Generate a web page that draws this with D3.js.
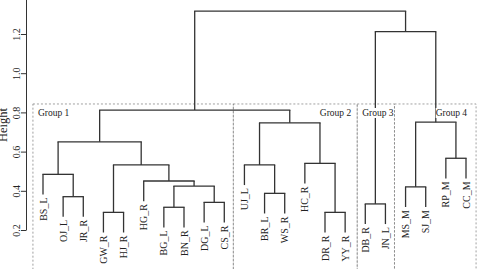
<!DOCTYPE html>
<html>
<head>
  <meta charset="utf-8">
  <style>
    html, body { margin: 0; overflow: hidden; background: #fff; }
    svg { display: block; }
    text { font-family: "Liberation Serif", "DejaVu Serif", serif; fill: #222; }
    .link { fill: none; stroke: #333; stroke-width: 1.3px; }
    .box { fill: none; stroke: #888; stroke-width: 0.8px; stroke-dasharray: 2,2; }
  </style>
  <script src="https://d3js.org/d3.v7.min.js"></script>
</head>
<body>
  <svg id="svg" width="479" height="269"></svg>
  <script>
    // leaves in dendrogram order
    var leaves = ["BS_L", "OJ_L", "JR_R", "GW_R", "HJ_R", "HG_R", "BG_L", "BN_R", "DG_L", "CS_R",
                  "UJ_L", "BR_L", "WS_R", "HC_R", "DR_R", "YY_R",
                  "DB_R", "JN_L",
                  "MS_M", "SJ_M", "RP_M", "CC_M"];

    // merges: a string is a leaf, a number is an earlier merge
    var merges = [
      ["OJ_L", "JR_R"], ["BS_L", 0], ["GW_R", "HJ_R"], ["BG_L", "BN_R"], ["DG_L", "CS_R"],
      [3, 4], ["HG_R", 5], [2, 6], [1, 7],
      ["BR_L", "WS_R"], ["UJ_L", 9], ["DR_R", "YY_R"], ["HC_R", 11], [10, 12],
      [8, 13],
      ["DB_R", "JN_L"], ["MS_M", "SJ_M"], ["RP_M", "CC_M"], [16, 17], [15, 18],
      [14, 19]
    ];
    var heights = [0.37, 0.484, 0.29, 0.316, 0.341,
                   0.424, 0.45, 0.532, 0.65,
                   0.387, 0.532, 0.29, 0.54, 0.747,
                   0.812,
                   0.333, 0.42, 0.566, 0.75, 1.212,
                   1.317];

    var groupNames = ["Group 1", "Group 2", "Group 3", "Group 4"];
    var groupEdges = [-0.5, 9.45, 15.6, 17.45, 21.5];   // in leaf units
    var groupTop = 0.843;
    var yTicks = [0.2, 0.4, 0.6, 0.8, 1.0, 1.2];

    var svg = d3.select("#svg");

    var x = d3.scaleLinear().domain([0, leaves.length - 1]).range([43, 466]);
    var y = d3.scaleLinear().domain([0.2, 1.4]).range([230, -5.2]);

    var hang = 0.1 * (d3.max(heights) - d3.min(heights));

    var boxes = svg.append("g");
    var links = svg.append("g");
    var labels = svg.append("g");

    // group boxes
    groupNames.forEach(function(name, i) {
      var x0 = x(groupEdges[i]), x1 = x(groupEdges[i + 1]);
      boxes.append("rect")
        .attr("class", "box")
        .attr("x", x0)
        .attr("y", y(groupTop))
        .attr("width", x1 - x0)
        .attr("height", y(-0.2) - y(groupTop));
      var bg = labels.append("rect").attr("fill", "#fff");
      var t = labels.append("text")
        .attr("y", y(groupTop) + 12)
        .style("font-size", "9.5px")
        .text(name);
      if (i === 0 || i === 2) t.attr("x", x0 + 5).attr("text-anchor", "start");
      else t.attr("x", x1 - (i === 3 ? 9 : 6)).attr("text-anchor", "end");
      var b = t.node().getBBox();
      bg.attr("x", b.x).attr("y", b.y).attr("width", b.width).attr("height", b.height);
    });

    // tree
    var mx = [];
    function nodeX(n) { return typeof n === "string" ? x(leaves.indexOf(n)) : mx[n]; }
    merges.forEach(function(m, i) {
      var h = heights[i];
      var xa = nodeX(m[0]), xb = nodeX(m[1]);
      mx[i] = (xa + xb) / 2;
      m.forEach(function(c, k) {
        var cx = k === 0 ? xa : xb;
        var ch = typeof c === "string" ? h - hang : heights[c];
        links.append("line").attr("class", "link")
          .attr("x1", cx).attr("x2", cx).attr("y1", y(h)).attr("y2", y(ch));
        if (typeof c === "string") {
          svg.append("text")
            .attr("transform", "translate(" + cx + "," + (y(ch) + 3) + ") rotate(-90)")
            .attr("text-anchor", "end")
            .attr("dy", "0.35em")
            .style("font-size", "10px")
            .text(c);
        }
      });
      links.append("line").attr("class", "link")
        .attr("x1", xa - 0.6).attr("x2", xb + 0.6).attr("y1", y(h)).attr("y2", y(h));
    });
    labels.raise();

    // y axis
    var yAxis = svg.append("g")
      .attr("transform", "translate(26,0)")
      .call(d3.axisLeft(y).tickValues(yTicks).tickSize(5).tickSizeOuter(0).tickFormat(d3.format(".1f")));
    yAxis.select(".domain").attr("stroke", "#333");
    yAxis.selectAll(".tick line").attr("stroke", "#333");
    yAxis.selectAll(".tick text")
      .attr("transform", "rotate(-90)")
      .attr("x", 0).attr("y", -6.5).attr("dy", 0)
      .attr("text-anchor", "middle")
      .style("font-family", "Liberation Serif, serif")
      .style("font-size", "10px")
      .attr("fill", "#222");

    svg.append("text")
      .attr("transform", "translate(7,125) rotate(-90)")
      .attr("text-anchor", "middle")
      .style("font-size", "12.5px")
      .text("Height");
  </script>
</body>
</html>
